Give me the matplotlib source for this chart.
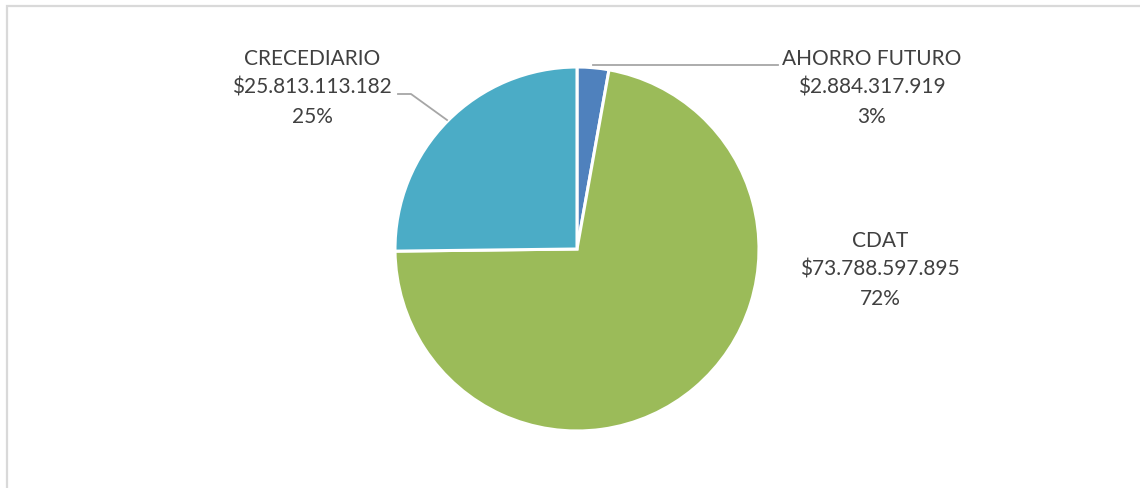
import matplotlib
matplotlib.use("Agg")
import matplotlib.pyplot as plt
from matplotlib.patches import Rectangle

categories = ["AHORRO FUTURO", "CDAT", "CRECEDIARIO"]
values = [2884317919, 73788597895, 25813113182]
colors = ["#4F81BD", "#9BBB59", "#4BACC6"]

W, H = 1140, 489
fig = plt.figure(figsize=(W / 100, H / 100), dpi=100)
ax = fig.add_axes([0, 0, 1, 1])

# chart frame (cropped on right/bottom like the original)
fig.patches.append(Rectangle((6.5 / W, -0.1), 1.2, 1 - 6.5 / H + 0.1,
                             transform=fig.transFigure, fill=False,
                             edgecolor="#d9d9d9", linewidth=1.6))

cx, cy, r = 577, H - 250, 182
ax.pie(values, colors=colors, startangle=90, counterclock=False,
       center=(cx, cy), radius=r, frame=True,
       wedgeprops=dict(edgecolor="white", linewidth=2.2))
ax.set_xlim(0, W)
ax.set_ylim(0, H)
ax.set_aspect("equal")
ax.axis("off")

total = sum(values)
def label(name, v):
    money = "$" + f"{v:,}".replace(",", ".")
    return f"{name}\n{money}\n{round(v / total * 100)}%"

font = dict(family="Lato", size=15, color="#404040")
label_pos = {"AHORRO FUTURO": (872, 88), "CDAT": (880, 270), "CRECEDIARIO": (312, 88)}
for name, v in zip(categories, values):
    x, y = label_pos[name]
    ax.text(x, H - y, label(name, v), ha="center", va="center",
            linespacing=1.57, **font)

# leader lines
ax.plot([593, 778], [H - 66, H - 66], color="#a6a6a6", lw=1.3)
ax.plot([398, 411, 447], [H - 95, H - 95, H - 121], color="#a6a6a6", lw=1.3)

fig.savefig("out.png", dpi=100)
